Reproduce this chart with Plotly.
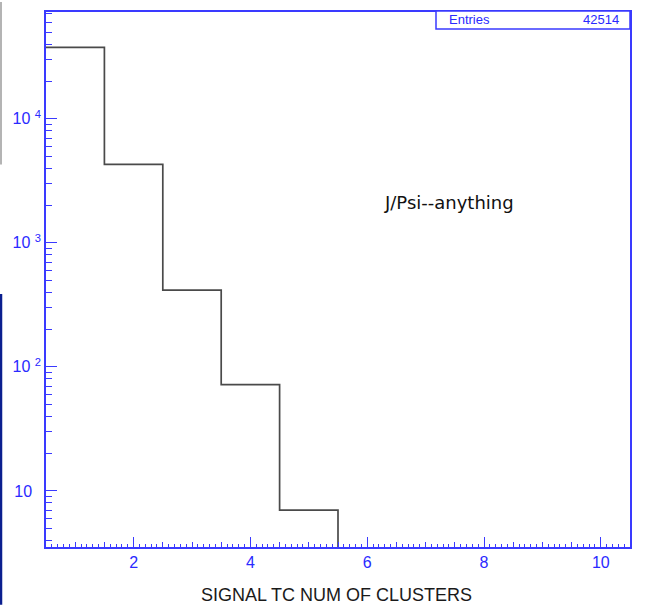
import plotly.graph_objects as go

# ---- data ----
bin_centers = [1, 2, 3, 4, 5, 6, 7, 8, 9, 10]
counts = [37700, 4290, 415, 72, 7, 0, 0, 0, 0, 0]
entries = 42514
x_title = "SIGNAL TC NUM OF CLUSTERS"
label_text = "J/Psi--anything"
x_tickvals = [2, 4, 6, 8, 10]
x_ticktext = ["2", "4", "6", "8", "10"]
y_tickvals = [10, 100, 1000, 10000]
y_ticktext = ["10\u00a0\u00a0", "10 <sup>2</sup>", "10 <sup>3</sup>", "10 <sup>4</sup>"]

# ---- style ----
W, H = 646, 605
ML, MR, MT, MB = 46, 16, 10, 58
PW, PH = W - ML - MR, H - MT - MB
BLUE = "#3a3aff"
TBLUE = "#2a2aff"
FONT = "Liberation Sans, Arial, sans-serif"

def px(xp):
    return (xp - ML) / PW

def py(yp):
    return (H - MB - yp) / PH

# step outline of the histogram (zero bins drop below the axis)
bw = bin_centers[1] - bin_centers[0]
floor = 1e-2
xs = [c - bw / 2 for c in bin_centers] + [bin_centers[-1] + bw / 2]
ys = [c if c > 0 else floor for c in counts] + [floor]

minor_y = [k * 10 ** e for e in range(0, 5) for k in range(2, 10)]

fig = go.Figure()
fig.add_trace(go.Scatter(x=xs, y=ys, mode="lines", line_shape="hv",
                         line=dict(color="#4a4a4a", width=1.7),
                         hoverinfo="skip", showlegend=False))
fig.add_trace(go.Scatter(x=[], y=[], xaxis="x2", yaxis="y", showlegend=False))

xr = [xs[0], xs[-1]]
fig.update_layout(
    width=W, height=H,
    margin=dict(l=ML, r=MR, t=MT, b=MB),
    paper_bgcolor="white", plot_bgcolor="white",
    font=dict(family=FONT, color=TBLUE),
    xaxis=dict(range=xr, tickmode="array", tickvals=x_tickvals, ticktext=x_ticktext,
               ticks="inside", ticklen=10, tickwidth=1.2, tickcolor=BLUE,
               showline=True, linecolor=BLUE, linewidth=1.5, mirror=True,
               showgrid=False, zeroline=False,
               tickfont=dict(size=16, color=TBLUE, family=FONT),
               minor=dict(tick0=0, dtick=0.1, ticks="inside", ticklen=3,
                          tickcolor=BLUE, tickwidth=1, showgrid=False)),
    xaxis2=dict(range=xr, overlaying="x", anchor="y", side="bottom",
                tick0=0.5, dtick=0.5, ticks="inside", ticklen=5, tickwidth=1,
                tickcolor=BLUE, showticklabels=False, showgrid=False,
                showline=False, zeroline=False),
    yaxis=dict(type="log", range=[0.548, 4.861],
               tickmode="array", tickvals=y_tickvals, ticktext=y_ticktext,
               ticks="inside", ticklen=11, tickwidth=1.2, tickcolor=BLUE,
               showline=True, linecolor=BLUE, linewidth=1.5, mirror=True,
               showgrid=False, zeroline=False,
               tickfont=dict(size=16, color=TBLUE, family=FONT),
               minor=dict(tickmode="array", tickvals=minor_y, ticks="inside",
                          ticklen=6, tickcolor=BLUE, tickwidth=1, showgrid=False)),
    shapes=[
        dict(type="rect", xref="paper", yref="paper",
             x0=px(436), x1=1.0, y0=py(27), y1=py(9),
             line=dict(color=BLUE, width=1.5), fillcolor="white"),
        dict(type="line", xref="paper", yref="paper",
             x0=px(1), x1=px(1), y0=py(0), y1=py(163),
             line=dict(color="#b4b4b4", width=2)),
        dict(type="line", xref="paper", yref="paper",
             x0=px(1), x1=px(1), y0=py(293), y1=py(605),
             line=dict(color="#0b1f8f", width=2.5)),
    ],
    annotations=[
        dict(text="Entries", xref="paper", yref="paper", x=px(447), y=py(18),
             xanchor="left", yanchor="middle", showarrow=False,
             font=dict(size=13, color=TBLUE, family=FONT)),
        dict(text=str(entries), xref="paper", yref="paper", x=px(621), y=py(18),
             xanchor="right", yanchor="middle", showarrow=False,
             font=dict(size=13, color=TBLUE, family=FONT)),
        dict(text=label_text, xref="paper", yref="paper", x=px(449), y=py(201),
             xanchor="center", yanchor="middle", showarrow=False,
             font=dict(size=18, color="#111111", family="DejaVu Sans, sans-serif")),
        dict(text=x_title, xref="paper", yref="paper", x=px(336), y=py(595),
             xanchor="center", yanchor="middle", showarrow=False,
             font=dict(size=18, color="#1a1a1a", family=FONT)),
    ],
)

fig.write_html("out.html")
